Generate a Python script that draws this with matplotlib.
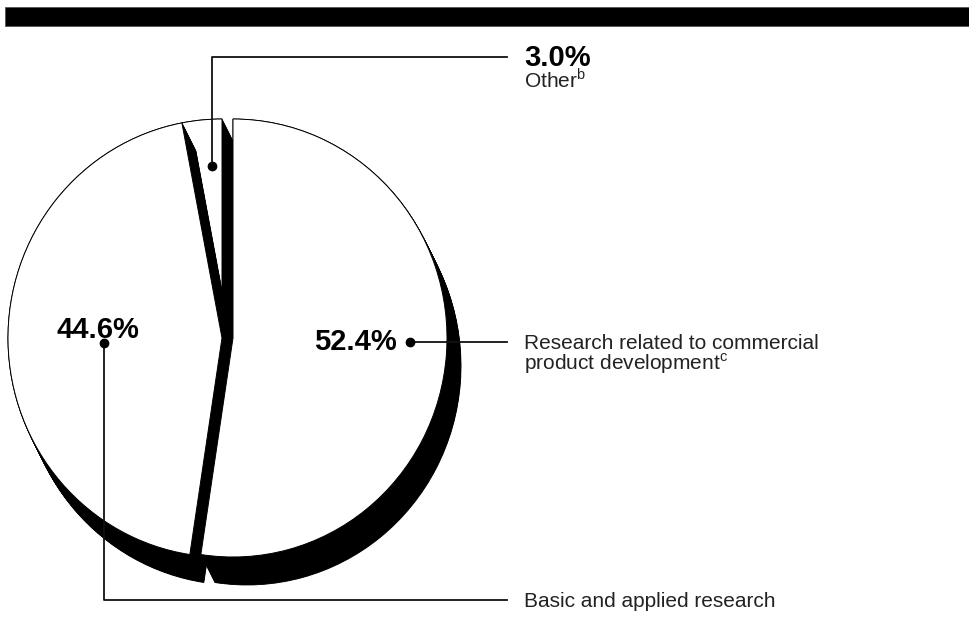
import numpy as np
import matplotlib
matplotlib.use("Agg")
import matplotlib.pyplot as plt
from matplotlib.patches import Wedge, Rectangle
from matplotlib.transforms import Affine2D

plt.rcParams['font.family'] = ['Liberation Sans', 'DejaVu Sans']
plt.rcParams['mathtext.fontset'] = 'custom'
plt.rcParams['mathtext.rm'] = 'Liberation Sans'
plt.rcParams['mathtext.bf'] = 'Liberation Sans:bold'

# ---- data ----
categories = ["Research related to commercial product development", "Other", "Basic and applied research"]
shares = [52.4, 3.0, 44.6]
pct_labels = ["52.4%", "3.0%", "44.6%"]
cat_line1 = ["Research related to commercial", "Other$^{\\mathrm{b}}$", "Basic and applied research"]
cat_line2 = ["product development$^{\\mathrm{c}}$", "", ""]

W, H = 969, 633
fig = plt.figure(figsize=(W / 100, H / 100), dpi=100)
ax = fig.add_axes([0, 0, 1, 1])
ax.set_xlim(0, W)
ax.set_ylim(H, 0)
ax.axis('off')

# top bar
ax.add_patch(Rectangle((5, 7), W - 5, 19, facecolor='black', edgecolor='#555555', lw=0.6))

# pie geometry (pixel layout)
rx, ry = 214, 219
ext_dx, ext_dy = 14, 28
centers = {0: (233, 338), 1: (222, 338), 2: (222, 338)}

angles = {}
angles[0] = (90.0 - 360.0 * shares[0] / 100.0, 90.0)
a1 = 90.0 + 360.0 * shares[1] / 100.0
angles[1] = (90.0, a1)
angles[2] = (a1, a1 + 360.0 * shares[2] / 100.0)

def draw_slice(i, z):
    cx, cy = centers[i]
    t1, t2 = angles[i]
    for t in np.linspace(0, 1, 45):
        tr = Affine2D().scale(rx, -ry).translate(cx + t * ext_dx, cy + t * ext_dy) + ax.transData
        ax.add_patch(Wedge((0, 0), 1, t1, t2, facecolor='black', edgecolor='black', lw=0.6,
                           transform=tr, zorder=z))
    tr = Affine2D().scale(rx, -ry).translate(cx, cy) + ax.transData
    ax.add_patch(Wedge((0, 0), 1, t1, t2, facecolor='white', edgecolor='black', lw=0.7,
                       transform=tr, zorder=z + 0.5))

draw_slice(1, 1)
draw_slice(2, 2)
draw_slice(0, 3)

# leader lines and dots
lc = '#111111'
ax.plot([212, 212, 507], [166, 57, 57], color=lc, lw=1.3, zorder=10)
ax.plot([212], [166], 'o', color='black', ms=6, zorder=11)
ax.plot([410, 507], [342, 342], color=lc, lw=1.3, zorder=10)
ax.plot([410], [342], 'o', color='black', ms=6, zorder=11)
ax.plot([104, 104, 507], [343, 600, 600], color=lc, lw=1.3, zorder=10)
ax.plot([104], [343], 'o', color='black', ms=6, zorder=11)

# percentage labels
big = 21
ax.text(524, 66, pct_labels[1], fontsize=big, fontweight='bold', ha='left', va='baseline', zorder=12)
ax.text(397, 350, pct_labels[0], fontsize=big, fontweight='bold', ha='right', va='baseline', zorder=12)
ax.text(57, 338, pct_labels[2], fontsize=big, fontweight='bold', ha='left', va='baseline', zorder=12)

# category labels
small = 15
col = '#222222'
ax.text(524, 88, cat_line1[1], fontsize=small, color=col, ha='left', va='baseline', zorder=12)
ax.text(524, 349, cat_line1[0], fontsize=small, color=col, ha='left', va='baseline', zorder=12)
ax.text(524, 370, cat_line2[0], fontsize=small, color=col, ha='left', va='baseline', zorder=12)
ax.text(524, 607, cat_line1[2], fontsize=small, color=col, ha='left', va='baseline', zorder=12)

fig.savefig("out.png", dpi=100)
